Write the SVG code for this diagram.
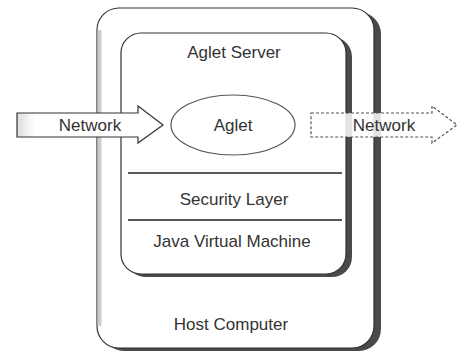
<svg xmlns="http://www.w3.org/2000/svg" width="464" height="352" viewBox="0 0 464 352">
<defs>
<style>
.t{font-family:"Liberation Sans",Arial,sans-serif;font-size:17px;fill:#333;text-anchor:middle}
.box{fill:#fff;stroke:#333;stroke-width:1.2}
.shadow{fill:#4a4a4a}
.sep{stroke:#222;stroke-width:1.3}
</style>
<linearGradient id="lg" x1="0" x2="1" y1="0" y2="0">
<stop offset="0" stop-color="#ddd"/><stop offset="0.12" stop-color="#fff"/>
</linearGradient>
</defs>
<g id="host">
<rect class="shadow" x="102" y="12" width="279" height="339" rx="22"/>
<rect class="box" x="97" y="8" width="277" height="340" rx="22"/>
<line x1="99.5" y1="30" x2="99.5" y2="326" stroke="#ccc" stroke-width="4"/>
<text class="t" x="231" y="330">Host Computer</text>
</g>
<g id="server">
<rect class="shadow" x="126" y="37" width="226" height="240" rx="20"/>
<rect class="box" x="121" y="33" width="225" height="241" rx="20"/>
<text class="t" x="234" y="58">Aglet Server</text>
<line class="sep" x1="128" y1="173" x2="342" y2="173"/>
<text class="t" x="234" y="205">Security Layer</text>
<line class="sep" x1="128" y1="220" x2="342" y2="220"/>
<text class="t" x="232" y="247">Java Virtual Machine</text>
</g>
<g id="aglet">
<ellipse cx="233" cy="125" rx="62" ry="30" fill="#fff" stroke="#555" stroke-width="1.2"/>
<text class="t" x="233" y="131">Aglet</text>
</g>
<g id="connectors">
<g id="net-in">
<path d="M17,113 H138 V106 L163,125 L138,143 V137 H17 Z" fill="url(#lg)" stroke="#333" stroke-width="1.2"/>
<text class="t" x="90" y="131">Network</text>
</g>
<g id="net-out">
<path d="M311,113 H432 V106 L457,125 L432,143 V137 H311 Z" fill="#fff" fill-opacity="0.85" stroke="#555" stroke-width="1.2" stroke-dasharray="3,2"/>
<text class="t" x="384" y="131">Network</text>
</g>
</g>
</svg>
